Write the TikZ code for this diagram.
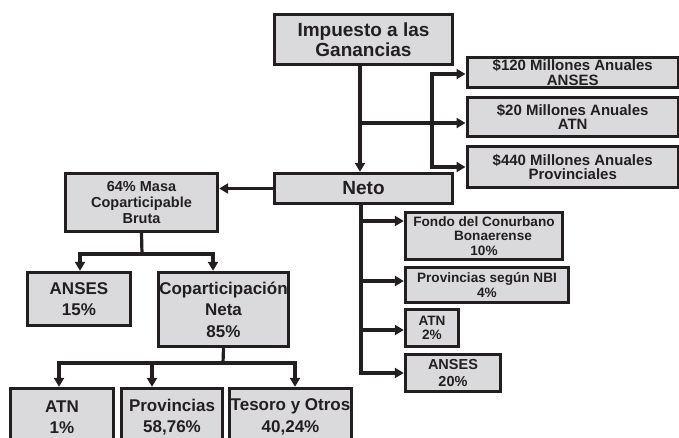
\documentclass[tikz,border=0pt]{standalone}
\usepackage{fontspec}
\setmainfont{Liberation Sans}
\usetikzlibrary{arrows.meta}
\definecolor{boxgray}{RGB}{218,218,220}
\definecolor{ink}{RGB}{35,31,32}

\begin{document}
\begin{tikzpicture}[x=1pt, y=-1pt,
		box/.style={draw=ink, line width=3.4pt, fill=boxgray, text=ink, align=center, inner sep=0pt},
		big text/.style={font=\fontsize{19}{19.5}\selectfont\bfseries},
		mid text/.style={font=\fontsize{17}{21.5}\selectfont\bfseries},
		small text/.style={font=\fontsize{15}{14.5}\selectfont\bfseries},
		tiny text/.style={font=\fontsize{13.6}{14.5}\selectfont\bfseries},
		link/.style={draw=ink, line width=3.2pt, -{Triangle[length=9pt,width=10pt]}},
		link both/.style={draw=ink, line width=3.2pt, {Triangle[length=9pt,width=10pt]}-{Triangle[length=9pt,width=10pt]}},
		trunk/.style={draw=ink, line width=3.2pt}
	]
	\useasboundingbox (0,0) rectangle (679,437);
	\clip (0,0) rectangle (679,437);
	
	% top
	\node[box, big text, minimum width=178pt, minimum height=50pt] (imp) at (363.5,39.5) {Impuesto a las\\ Ganancias};
	\node[box, small text, anchor=west, minimum width=211pt, minimum height=30pt] (ans120) at (465.5,72.5) {\$120 Millones Anuales\\ANSES};
	\node[box, small text, anchor=west, minimum width=211pt, minimum height=39pt] (atn20) at (465.5,117) {\$20 Millones Anuales\\ATN};
	\node[box, small text, anchor=west, minimum width=211pt, minimum height=41pt] (p440) at (465.5,167) {\$440 Millones Anuales\\Provinciales};
	\node[box, big text, minimum width=178pt, minimum height=30pt] (neto) at (363.5,188.5) {Neto};
	
	% left branch
	\node[box, font=\fontsize{14.5}{16}\selectfont\bfseries, minimum width=152pt, minimum height=58pt] (masa) at (141.5,202.5) {64\% Masa\\ Coparticipable\\ Bruta};
	\node[box, mid text, minimum width=103pt, minimum height=53pt] (anses15) at (79,299) {ANSES\\15\%};
	\node[box, mid text, minimum width=130pt, minimum height=74pt] (copa) at (223.5,309.5) {Coparticipación\\Neta\\85\%};
	\node[box, mid text, minimum width=103pt, minimum height=57pt] (atn1) at (62,417) {ATN\\1\%};
	\node[box, mid text, minimum width=101pt, minimum height=57pt] (prov) at (172,417) {Provincias\\58,76\%};
	\node[box, mid text, minimum width=122pt, minimum height=57pt] (tes) at (290.5,417) {Tesoro y Otros\\40,24\%};
	
	% right branch
	\node[box, tiny text, minimum width=157pt, minimum height=47pt] (fondo) at (484,236) {Fondo del Conurbano\\\hspace*{18pt}Bonaerense\\10\%};
	\node[box, tiny text, minimum width=163pt, minimum height=35pt] (nbi) at (487,285) {Provincias según NBI\\4\%};
	\node[box, tiny text, minimum width=53pt, minimum height=37pt] (atn2) at (432,328) {ATN\\2\%};
	\node[box, font=\fontsize{14.5}{17}\selectfont\bfseries, minimum width=95pt, minimum height=37pt] (anses20) at (453,373) {ANSES\\20\%};
	
	% connector ends
	\coordinate (br) at (432,0);
	\coordinate (in120) at ([yshift=-1.5pt]ans120.west);
	\coordinate (in20) at ([yshift=-6pt]atn20.west);
	\coordinate (out1) at ([xshift=-3.5pt]imp.south);
	\coordinate (out2) at ([xshift=-2.5pt]neto.south);
	\coordinate (infondo) at ([yshift=15pt]fondo.west);
	\coordinate (innbi) at ([yshift=4pt]nbi.west);
	\coordinate (inatn2) at ([yshift=-2pt]atn2.west);
	
	% connectors
	\draw[link] (out1) -- (out1 |- neto.north);
	\draw[link] (out1 |- in20) -- (in20);
	\draw[link both] (in120) -- (br |- in120) -- (br |- p440.west) -- (p440.west);
	\draw[link] (neto.west) -- (neto.west -| masa.east);
	
	\coordinate (j1) at (142,254);
	\draw[trunk] (masa.south) -- (j1);
	\draw[link] (j1) -| ([xshift=1pt]anses15.north);
	\draw[link] (j1) -| ([xshift=-10.5pt]copa.north);
	
	\coordinate (j2) at (223,363);
	\draw[trunk] (copa.south) -- (j2);
	\draw[link] (j2) -| ([xshift=-3pt]atn1.north);
	\draw[link] (j2) -| ([xshift=-20pt]prov.north);
	\draw[link] (j2) -| ([xshift=4.5pt]tes.north);
	
	\draw[link] (out2) |- (anses20.west);
	\draw[link] (out2 |- infondo) -- (infondo);
	\draw[link] (out2 |- innbi) -- (innbi);
	\draw[link] (out2 |- inatn2) -- (inatn2);
\end{tikzpicture}
\end{document}
